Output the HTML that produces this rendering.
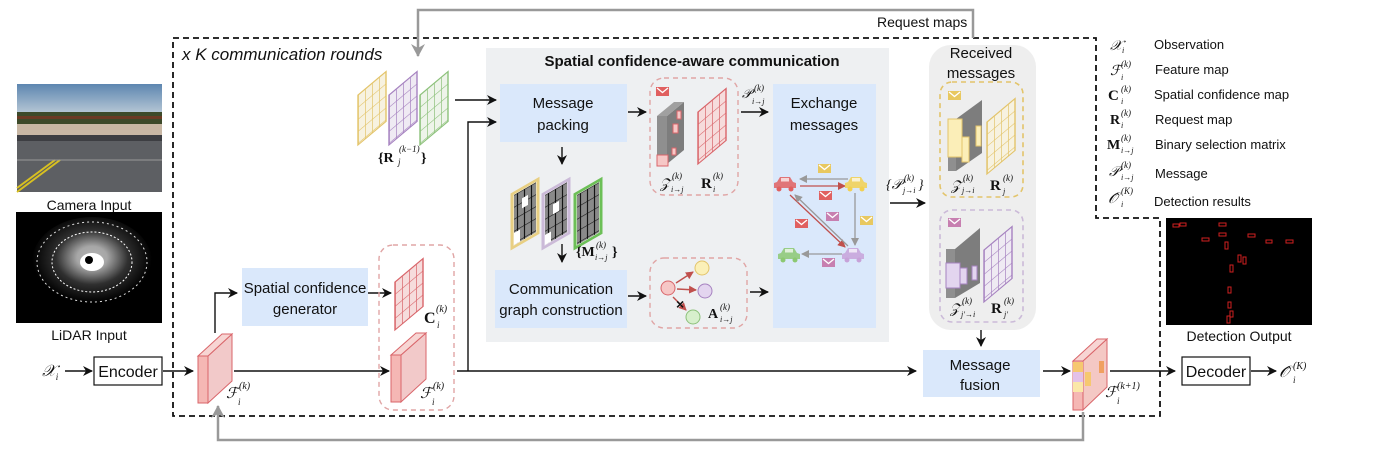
<!DOCTYPE html>
<html><head><meta charset="utf-8"><style>
html,body{margin:0;padding:0;background:#fff}
svg{display:block}
text{font-family:"Liberation Sans",sans-serif;fill:#111}
.m{font-family:"Liberation Serif",serif;font-style:italic}
.b{font-family:"Liberation Serif",serif;font-weight:bold}
</style></head><body>
<svg width="1388" height="458" viewBox="0 0 1388 458" xmlns="http://www.w3.org/2000/svg">
<defs>
<marker id="ah" markerWidth="10" markerHeight="10" refX="9" refY="5" orient="auto" markerUnits="userSpaceOnUse"><path d="M0,0 L10,5 L0,10 L3,5 z" fill="#111"/></marker>
<marker id="ag" markerWidth="14" markerHeight="14" refX="12" refY="7" orient="auto" markerUnits="userSpaceOnUse"><path d="M0,0 L13,7 L0,14 L4,7 z" fill="#999"/></marker>
<marker id="as" markerWidth="8" markerHeight="8" refX="7" refY="4" orient="auto" markerUnits="userSpaceOnUse"><path d="M0,0 L8,4 L0,8 z" fill="#999"/></marker>
<marker id="ar" markerWidth="8" markerHeight="8" refX="7" refY="4" orient="auto" markerUnits="userSpaceOnUse"><path d="M0,0 L8,4 L0,8 z" fill="#c0504d"/></marker>
<pattern id="gy" width="7" height="12" patternUnits="userSpaceOnUse"><rect width="7" height="12" fill="#f7f2e0"/><path d="M0,0H7M0,0V12" stroke="#e3c46a" stroke-width="1.4"/></pattern>
<pattern id="gp" width="7" height="12" patternUnits="userSpaceOnUse"><rect width="7" height="12" fill="#efeaf3"/><path d="M0,0H7M0,0V12" stroke="#a682c0" stroke-width="1.4"/></pattern>
<pattern id="gg" width="7" height="12" patternUnits="userSpaceOnUse"><rect width="7" height="12" fill="#eef4ea"/><path d="M0,0H7M0,0V12" stroke="#8cc17a" stroke-width="1.4"/></pattern>
<pattern id="gr" width="7" height="12" patternUnits="userSpaceOnUse"><rect width="7" height="12" fill="#f6dcdc"/><path d="M0,0H7M0,0V12" stroke="#d9656a" stroke-width="1.4"/></pattern>
<pattern id="gk" width="7" height="12" patternUnits="userSpaceOnUse"><rect width="7" height="12" fill="#8a8a8a"/><path d="M0,0H7M3.5,0V12" stroke="#111" stroke-width="1.2"/></pattern>
<linearGradient id="sky" x1="0" y1="0" x2="0" y2="1"><stop offset="0" stop-color="#5d86b0"/><stop offset="1" stop-color="#b9c9d6"/></linearGradient>
<radialGradient id="lid" cx="0.5" cy="0.45" r="0.5"><stop offset="0" stop-color="#fff"/><stop offset="0.25" stop-color="#eee"/><stop offset="0.6" stop-color="#444"/><stop offset="1" stop-color="#000"/></radialGradient>
<g id="env"><rect x="0" y="0" width="13" height="9" fill="currentColor"/><path d="M1,1 L6.5,5.5 L12,1" stroke="#fff" stroke-width="1.3" fill="none"/></g>
<g id="car"><path d="M-11,3 v-5 l3,-1 l3,-5 h10 l3,5 l3,1 v5 z" fill="currentColor" opacity="0.85"/><rect x="-4" y="-7" width="8" height="3.5" fill="#fff" opacity="0.7"/><circle cx="-6" cy="4" r="2.5" fill="currentColor"/><circle cx="6" cy="4" r="2.5" fill="currentColor"/></g>
</defs>

<!-- gray panel (behind arrows) -->
<rect x="486" y="48" width="403" height="294" fill="#eef0f2"/>
<rect x="929" y="45" width="107" height="285" rx="22" fill="#eeeeee"/>

<!-- camera -->
<rect x="17" y="84" width="145" height="108" fill="#6f7278"/>
<rect x="17" y="84" width="145" height="30" fill="url(#sky)"/>
<rect x="17" y="112" width="145" height="12" fill="#3d4a2a"/>
<rect x="17" y="116" width="145" height="3" fill="#6b3a24"/>
<rect x="17" y="124" width="145" height="11" fill="#c8b7a4"/>
<rect x="17" y="135" width="145" height="57" fill="#5d5f63"/>
<rect x="17" y="135" width="145" height="6" fill="#3d3e42"/>
<path d="M17,188 L55,160 M17,192 L60,160" stroke="#d8c020" stroke-width="2"/>
<path d="M17,160 H162" stroke="#999" stroke-width="1"/>
<text x="89" y="210" font-size="14" text-anchor="middle" fill="#333">Camera Input</text>
<!-- lidar -->
<rect x="16" y="212" width="146" height="111" fill="#000"/>
<ellipse cx="92" cy="262" rx="60" ry="45" fill="url(#lid)" opacity="0.7"/>
<ellipse cx="92" cy="262" rx="40" ry="30" fill="none" stroke="#fff" stroke-width="1" stroke-dasharray="2 2"/>
<ellipse cx="92" cy="262" rx="55" ry="40" fill="none" stroke="#ddd" stroke-width="1" stroke-dasharray="2 3"/>
<ellipse cx="92" cy="262" rx="12" ry="9" fill="#fff"/>
<circle cx="89" cy="260" r="4" fill="#000"/>
<text x="89" y="340" font-size="14" text-anchor="middle" fill="#333">LiDAR Input</text>

<!-- outer dashed frame -->
<path d="M173,38 H1096 V218 H1160 V416 H173 Z" fill="none" stroke="#111" stroke-width="1.8" stroke-dasharray="6 4"/>
<text x="182" y="60" font-size="17" font-style="italic" fill="#111">x K communication rounds</text>

<!-- gray feedback arrows -->
<path d="M973,38 V10 H418 V56" fill="none" stroke="#999" stroke-width="2.5" marker-end="url(#ag)"/>
<text x="877" y="27" font-size="14">Request maps</text>
<path d="M1083,412 V440 H218 V406" fill="none" stroke="#999" stroke-width="2.5" marker-end="url(#ag)"/>

<!-- X_i encoder -->
<text x="42" y="376" font-size="16" class="m">𝒳<tspan font-size="9" dy="4">i</tspan></text>
<line x1="65" y1="371" x2="92" y2="371" stroke="#111" stroke-width="1.4" marker-end="url(#ah)"/>
<rect x="94" y="357" width="68" height="28" fill="#fff" stroke="#111" stroke-width="1.2"/>
<text x="128" y="377" font-size="16" text-anchor="middle">Encoder</text>
<line x1="163" y1="371" x2="193" y2="371" stroke="#111" stroke-width="1.4" marker-end="url(#ah)"/>

<!-- feature cube 1 -->
<g>
<path d="M208,356 L232,334 V381 L208,403 Z" fill="#f2c9c9" stroke="#d9656a"/>
<rect x="198" y="356" width="10" height="47" fill="#f5b7b4" stroke="#d9656a"/>
<path d="M198,356 L222,334 H232 L208,356 Z" fill="#f7d5d3" stroke="#d9656a"/>
</g>
<text x="226" y="398" font-size="15" class="m">ℱ</text><text x="239" y="389" font-size="10" class="m">(k)</text><text x="238" y="405" font-size="9" class="m">i</text>

<!-- to spatial conf gen -->
<path d="M215,333 V293 H237" fill="none" stroke="#111" stroke-width="1.4" marker-end="url(#ah)"/>
<rect x="242" y="268" width="126" height="58" fill="#dae8fb"/>
<text x="305" y="293" font-size="15" text-anchor="middle">Spatial confidence</text>
<text x="305" y="314" font-size="15" text-anchor="middle">generator</text>
<line x1="368" y1="293" x2="391" y2="293" stroke="#111" stroke-width="1.4" marker-end="url(#ah)"/>
<line x1="234" y1="371" x2="389" y2="371" stroke="#111" stroke-width="1.4" marker-end="url(#ah)"/>

<!-- pink dashed C/F -->
<rect x="379" y="245" width="75" height="165" rx="14" fill="none" stroke="#e0a5a5" stroke-width="1.4" stroke-dasharray="5 4"/>
<g transform="translate(395,282) skewY(-40)"><rect width="28" height="48" fill="url(#gr)" stroke="#d9656a" stroke-width="1.4"/></g>
<text x="424" y="323" font-size="16" class="b">C</text><text x="436" y="312" font-size="10" class="m">(k)</text><text x="437" y="328" font-size="9" class="m">i</text>
<g>
<path d="M401,355 L426,333 V379 L401,402 Z" fill="#f2c9c9" stroke="#d9656a"/>
<rect x="391" y="355" width="10" height="47" fill="#f5b7b4" stroke="#d9656a"/>
<path d="M391,355 L416,333 H426 L401,355 Z" fill="#f7d5d3" stroke="#d9656a"/>
</g>
<text x="420" y="398" font-size="15" class="m">ℱ</text><text x="433" y="389" font-size="10" class="m">(k)</text><text x="432" y="405" font-size="9" class="m">i</text>

<!-- main line -->
<line x1="457" y1="371" x2="916" y2="371" stroke="#111" stroke-width="1.4" marker-end="url(#ah)"/>
<path d="M468,371 V122 H496" fill="none" stroke="#111" stroke-width="1.4" marker-end="url(#ah)"/>

<!-- R maps -->
<g transform="translate(358,95) skewY(-40)"><rect width="28" height="50" fill="url(#gy)" stroke="#e3c46a" stroke-width="1.4"/></g>
<g transform="translate(389,95) skewY(-40)"><rect width="28" height="50" fill="url(#gp)" stroke="#a682c0" stroke-width="1.4"/></g>
<g transform="translate(420,95) skewY(-40)"><rect width="28" height="50" fill="url(#gg)" stroke="#8cc17a" stroke-width="1.4"/></g>
<text x="378" y="162" font-size="14" class="b">{R</text><text x="399" y="152" font-size="9" class="m">(k−1)</text><text x="398" y="165" font-size="9" class="m">j</text><text x="421" y="162" font-size="14" class="b">}</text>
<line x1="455" y1="100" x2="496" y2="100" stroke="#111" stroke-width="1.4" marker-end="url(#ah)"/>

<!-- panel content -->
<text x="692" y="66" font-size="15" font-weight="bold" text-anchor="middle">Spatial confidence-aware communication</text>
<rect x="500" y="84" width="127" height="58" fill="#dae8fb"/>
<text x="563" y="108" font-size="15" text-anchor="middle">Message</text>
<text x="563" y="130" font-size="15" text-anchor="middle">packing</text>
<line x1="628" y1="112" x2="646" y2="112" stroke="#111" stroke-width="1.4" marker-end="url(#ah)"/>
<!-- upper pink dashed -->
<rect x="650" y="78" width="88" height="117" rx="14" fill="none" stroke="#e0a5a5" stroke-width="1.4" stroke-dasharray="5 4"/>
<use href="#env" x="656" y="87" color="#e06060"/>
<path d="M667,116 L684,102 V150 L667,164 Z" fill="#7d7d7d"/>
<rect x="657" y="116" width="10" height="50" fill="#8f8f8f"/>
<path d="M657,116 L674,102 H684 L667,116 Z" fill="#a0a0a0"/>
<rect x="657" y="155" width="11" height="11" fill="#f6c7c6" stroke="#d9656a"/>
<rect x="673" y="124" width="5" height="9" fill="#f6c7c6" stroke="#d9656a"/>
<rect x="677" y="111" width="4" height="8" fill="#f6c7c6" stroke="#d9656a"/>
<rect x="672" y="148" width="4" height="7" fill="#f6c7c6" stroke="#d9656a"/>
<g transform="translate(698,112) skewY(-40)"><rect width="28" height="52" fill="url(#gr)" stroke="#d9656a" stroke-width="1.4"/></g>
<text x="660" y="188" font-size="14" class="m">𝒵</text><text x="672" y="179" font-size="9" class="m">(k)</text><text x="671" y="192" font-size="8" class="m">i→j</text>
<text x="701" y="188" font-size="15" class="b">R</text><text x="713" y="179" font-size="9" class="m">(k)</text><text x="713" y="192" font-size="8" class="m">i</text>
<text x="742" y="98" font-size="13" class="m">𝒫</text><text x="754" y="91" font-size="9" class="m">(k)</text><text x="752" y="104" font-size="8" class="m">i→j</text>
<line x1="741" y1="112" x2="768" y2="112" stroke="#111" stroke-width="1.4" marker-end="url(#ah)"/>

<!-- arrows down and masks -->
<line x1="562" y1="147" x2="562" y2="164" stroke="#111" stroke-width="1.4" marker-end="url(#ah)"/>
<g transform="translate(514,195) skewY(-30)"><rect x="-2" y="-2" width="26" height="54" fill="#f7f2e0" stroke="#e8cf83" stroke-width="3"/><rect width="22" height="50" fill="url(#gk)"/><rect x="8" y="8" width="6" height="10" fill="#fff"/><rect x="0" y="38" width="6" height="12" fill="#fff"/></g>
<g transform="translate(545,195) skewY(-30)"><rect x="-2" y="-2" width="26" height="54" fill="#efeaf3" stroke="#cbbad8" stroke-width="3"/><rect width="22" height="50" fill="url(#gk)"/><rect x="8" y="14" width="6" height="10" fill="#fff"/><rect x="0" y="40" width="6" height="10" fill="#fff"/></g>
<g transform="translate(577,195) skewY(-30)"><rect x="-2" y="-2" width="26" height="54" fill="#eef4ea" stroke="#6cbf57" stroke-width="3"/><rect width="22" height="50" fill="url(#gk)"/></g>
<line x1="562" y1="244" x2="562" y2="262" stroke="#111" stroke-width="1.4" marker-end="url(#ah)"/>
<text x="576" y="256" font-size="14" class="b">{M</text><text x="596" y="248" font-size="9" class="m">(k)</text><text x="595" y="260" font-size="8" class="m">i→j</text><text x="612" y="256" font-size="14" class="b">}</text>

<rect x="495" y="270" width="132" height="58" fill="#dae8fb"/>
<text x="561" y="294" font-size="15" text-anchor="middle">Communication</text>
<text x="561" y="315" font-size="15" text-anchor="middle">graph construction</text>
<line x1="628" y1="296" x2="646" y2="296" stroke="#111" stroke-width="1.4" marker-end="url(#ah)"/>
<rect x="650" y="258" width="97" height="70" rx="14" fill="none" stroke="#e0a5a5" stroke-width="1.4" stroke-dasharray="5 4"/>
<circle cx="668" cy="288" r="7" fill="#f6c7c6" stroke="#d9656a"/>
<circle cx="702" cy="268" r="7" fill="#fbf0b8" stroke="#e3c46a"/>
<circle cx="705" cy="291" r="7" fill="#e3d5ef" stroke="#a682c0"/>
<circle cx="693" cy="317" r="7" fill="#d7efcc" stroke="#8cc17a"/>
<line x1="676" y1="283" x2="693" y2="272" stroke="#c0504d" stroke-width="1.4" marker-end="url(#ar)"/>
<line x1="677" y1="289" x2="696" y2="290" stroke="#c0504d" stroke-width="1.4" marker-end="url(#ar)"/>
<line x1="673" y1="297" x2="686" y2="310" stroke="#c0504d" stroke-width="1.4" marker-end="url(#ar)"/>
<text x="676" y="309" font-size="14" fill="#e03030" font-weight="bold">×</text>
<text x="708" y="318" font-size="14" class="b">A</text><text x="720" y="310" font-size="9" class="m">(k)</text><text x="720" y="322" font-size="8" class="m">i→j</text>
<line x1="750" y1="292" x2="768" y2="292" stroke="#111" stroke-width="1.4" marker-end="url(#ah)"/>

<!-- exchange -->
<rect x="773" y="84" width="103" height="244" fill="#dae8fb"/>
<text x="824" y="108" font-size="15" text-anchor="middle">Exchange</text>
<text x="824" y="130" font-size="15" text-anchor="middle">messages</text>
<line x1="848" y1="179" x2="800" y2="179" stroke="#999" stroke-width="1.3" marker-end="url(#as)"/>
<line x1="800" y1="186" x2="845" y2="186" stroke="#c0504d" stroke-width="1.3" marker-end="url(#ar)"/>
<line x1="855" y1="193" x2="855" y2="245" stroke="#999" stroke-width="1.3" marker-end="url(#as)"/>
<line x1="790" y1="195" x2="845" y2="247" stroke="#c0504d" stroke-width="1.3" marker-end="url(#ar)"/>
<line x1="848" y1="246" x2="795" y2="195" stroke="#999" stroke-width="1.3" marker-end="url(#as)"/>
<line x1="842" y1="254" x2="802" y2="254" stroke="#999" stroke-width="1.3" marker-end="url(#as)"/>
<use href="#car" x="785" y="185" color="#e06060"/>
<use href="#car" x="856" y="185" color="#f2d050"/>
<use href="#car" x="789" y="256" color="#8cc872"/>
<use href="#car" x="853" y="256" color="#c7a2d9"/>
<use href="#env" x="818" y="164" color="#e8c860"/>
<use href="#env" x="819" y="191" color="#e06060"/>
<use href="#env" x="826" y="212" color="#c77fb0"/>
<use href="#env" x="795" y="219" color="#e06060"/>
<use href="#env" x="860" y="216" color="#e8c860"/>
<use href="#env" x="822" y="258" color="#c77fb0"/>

<!-- P_{j->i} -->
<text x="886" y="189" font-size="14" class="m">{𝒫</text><text x="904" y="181" font-size="9" class="m">(k)</text><text x="903" y="193" font-size="8" class="m">j→i</text><text x="918" y="189" font-size="14" class="m">}</text>
<line x1="890" y1="203" x2="925" y2="203" stroke="#111" stroke-width="1.4" marker-end="url(#ah)"/>

<!-- received -->
<text x="981" y="58" font-size="15" text-anchor="middle">Received</text>
<text x="981" y="78" font-size="15" text-anchor="middle">messages</text>
<rect x="940" y="82" width="83" height="115" rx="12" fill="none" stroke="#e3c46a" stroke-width="1.6" stroke-dasharray="5 4"/>
<use href="#env" x="948" y="91" color="#e8c860"/>
<path d="M956,119 L982,100 V153 L956,171 Z" fill="#7d7d7d"/>
<rect x="948" y="119" width="8" height="52" fill="#8f8f8f"/>
<rect x="948" y="119" width="14" height="38" fill="#fbeeb8" stroke="#e3c46a"/>
<rect x="962" y="137" width="7" height="25" fill="#fbeeb8" stroke="#e3c46a"/>
<rect x="976" y="126" width="5" height="20" fill="#fbeeb8" stroke="#e3c46a"/>
<g transform="translate(987,122) skewY(-40)"><rect width="28" height="52" fill="url(#gy)" stroke="#e3c46a" stroke-width="1.4"/></g>
<text x="951" y="190" font-size="14" class="m">𝒵</text><text x="963" y="181" font-size="9" class="m">(k)</text><text x="962" y="193" font-size="8" class="m">j→i</text>
<text x="990" y="190" font-size="15" class="b">R</text><text x="1003" y="181" font-size="9" class="m">(k)</text><text x="1003" y="194" font-size="8" class="m">j</text>
<rect x="940" y="210" width="83" height="112" rx="12" fill="none" stroke="#cbbad8" stroke-width="1.6" stroke-dasharray="5 4"/>
<use href="#env" x="948" y="218" color="#c77fb0"/>
<path d="M955,249 L980,228 V283 L955,298 Z" fill="#7d7d7d"/>
<rect x="946" y="249" width="9" height="49" fill="#8f8f8f"/>
<rect x="946" y="263" width="14" height="25" fill="#e3d5ef" stroke="#a682c0"/>
<rect x="960" y="268" width="7" height="16" fill="#e3d5ef" stroke="#a682c0"/>
<rect x="972" y="266" width="5" height="14" fill="#e3d5ef" stroke="#a682c0"/>
<g transform="translate(984,250) skewY(-40)"><rect width="28" height="52" fill="url(#gp)" stroke="#a682c0" stroke-width="1.4"/></g>
<text x="950" y="313" font-size="14" class="m">𝒵</text><text x="962" y="304" font-size="9" class="m">(k)</text><text x="961" y="317" font-size="8" class="m">j′→i</text>
<text x="991" y="313" font-size="15" class="b">R</text><text x="1004" y="304" font-size="9" class="m">(k)</text><text x="1004" y="317" font-size="8" class="m">j′</text>

<line x1="981" y1="330" x2="981" y2="346" stroke="#111" stroke-width="1.4" marker-end="url(#ah)"/>
<rect x="923" y="350" width="117" height="47" fill="#dae8fb"/>
<text x="980" y="370" font-size="15" text-anchor="middle">Message</text>
<text x="980" y="390" font-size="15" text-anchor="middle">fusion</text>
<line x1="1043" y1="371" x2="1070" y2="371" stroke="#111" stroke-width="1.4" marker-end="url(#ah)"/>
<!-- fused cube -->
<path d="M1083,361 L1107,339 V387 L1083,410 Z" fill="#f4c8c4" stroke="#d9656a"/>
<rect x="1073" y="361" width="10" height="49" fill="#f5b7b4" stroke="#d9656a"/>
<path d="M1073,361 L1097,339 H1107 L1083,361 Z" fill="#f7d5d3" stroke="#d9656a"/>
<rect x="1073" y="362" width="10" height="10" fill="#f6c870"/>
<rect x="1073" y="372" width="10" height="10" fill="#e3c1e8"/>
<rect x="1073" y="382" width="10" height="10" fill="#fbe7a8"/>
<rect x="1085" y="372" width="6" height="14" fill="#f6c870"/>
<rect x="1099" y="361" width="5" height="12" fill="#f0a060"/>
<text x="1105" y="397" font-size="15" class="m">ℱ</text><text x="1117" y="389" font-size="10" class="m">(k+1)</text><text x="1117" y="404" font-size="9" class="m">i</text>
<line x1="1110" y1="371" x2="1175" y2="371" stroke="#111" stroke-width="1.4" marker-end="url(#ah)"/>
<rect x="1182" y="357" width="68" height="28" fill="#fff" stroke="#111" stroke-width="1.2"/>
<text x="1216" y="377" font-size="16" text-anchor="middle">Decoder</text>
<line x1="1251" y1="371" x2="1276" y2="371" stroke="#111" stroke-width="1.4" marker-end="url(#ah)"/>
<text x="1279" y="377" font-size="16" class="m">𝒪̂</text><text x="1293" y="369" font-size="10" class="m">(K)</text><text x="1293" y="383" font-size="9" class="m">i</text>

<!-- detection output -->
<rect x="1166" y="218" width="146" height="107" fill="#000"/>
<g fill="none" stroke="#d02020" stroke-width="1">
<rect x="1173" y="224" width="6" height="3"/><rect x="1180" y="223" width="6" height="3"/><rect x="1219" y="223" width="7" height="3"/>
<rect x="1202" y="238" width="7" height="3"/><rect x="1219" y="233" width="7" height="3"/><rect x="1248" y="234" width="7" height="3"/>
<rect x="1266" y="240" width="6" height="3"/><rect x="1286" y="240" width="7" height="3"/><rect x="1225" y="242" width="3" height="7"/>
<rect x="1238" y="255" width="3" height="7"/><rect x="1243" y="257" width="3" height="7"/><rect x="1230" y="265" width="3" height="7"/>
<rect x="1228" y="287" width="3" height="6"/><rect x="1228" y="302" width="3" height="6"/><rect x="1230" y="311" width="3" height="6"/><rect x="1227" y="316" width="3" height="7"/>
</g>
<text x="1239" y="341" font-size="14" text-anchor="middle" fill="#333">Detection Output</text>

<!-- legend -->
<g font-size="13">
<text x="1110" y="50" font-size="14" class="m">𝒳<tspan font-size="8" dy="3">i</tspan></text><text x="1154" y="49">Observation</text>
<text x="1110" y="75" font-size="14" class="m">ℱ</text><text x="1121" y="67" font-size="9" class="m">(k)</text><text x="1121" y="80" font-size="8" class="m">i</text><text x="1155" y="74">Feature map</text>
<text x="1108" y="100" font-size="15" class="b">C</text><text x="1121" y="92" font-size="9" class="m">(k)</text><text x="1121" y="104" font-size="8" class="m">i</text><text x="1154" y="99">Spatial confidence map</text>
<text x="1110" y="124" font-size="14" class="b">R</text><text x="1121" y="116" font-size="9" class="m">(k)</text><text x="1121" y="128" font-size="8" class="m">i</text><text x="1155" y="124">Request map</text>
<text x="1107" y="149" font-size="14" class="b">M</text><text x="1121" y="141" font-size="9" class="m">(k)</text><text x="1121" y="153" font-size="8" class="m">i→j</text><text x="1155" y="149">Binary selection matrix</text>
<text x="1109" y="176" font-size="14" class="m">𝒫</text><text x="1121" y="168" font-size="9" class="m">(k)</text><text x="1121" y="180" font-size="8" class="m">i→j</text><text x="1155" y="178">Message</text>
<text x="1108" y="203" font-size="15" class="m">𝒪̂</text><text x="1121" y="194" font-size="9" class="m">(K)</text><text x="1121" y="207" font-size="8" class="m">i</text><text x="1154" y="206">Detection results</text>
</g>
</svg>
</body></html>
